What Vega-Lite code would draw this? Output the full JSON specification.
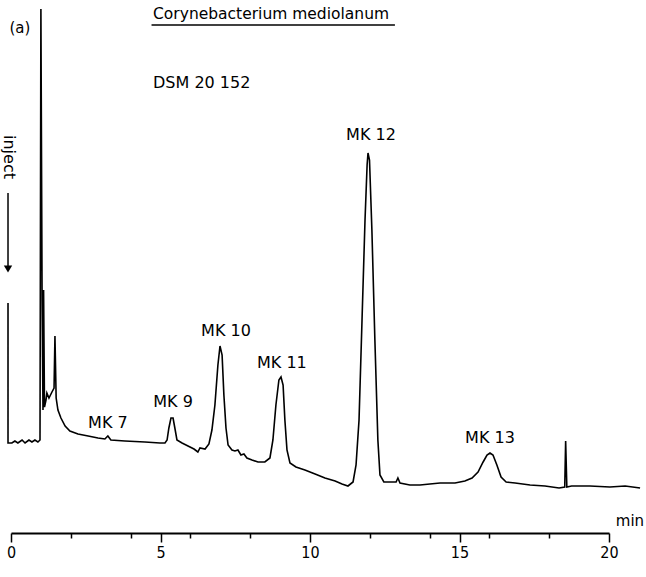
{
  "$schema": "https://vega.github.io/schema/vega-lite/v6.json",
  "width": 598,
  "height": 533,
  "autosize": "none",
  "padding": {"left": 11, "top": 0, "right": 37, "bottom": 44},
  "background": "white",
  "config": {"view": {"stroke": null}},
  "datasets": {
    "trace": [
      {"t": -0.10, "v": 230}, {"t": -0.10, "v": 90}, {"t": 0.03, "v": 90}, {"t": 0.13, "v": 92},
      {"t": 0.23, "v": 90}, {"t": 0.37, "v": 93}, {"t": 0.47, "v": 90}, {"t": 0.60, "v": 93},
      {"t": 0.70, "v": 91}, {"t": 0.80, "v": 93}, {"t": 0.90, "v": 91}, {"t": 0.97, "v": 93},
      {"t": 1.00, "v": 524}, {"t": 1.04, "v": 233}, {"t": 1.07, "v": 123}, {"t": 1.09, "v": 243},
      {"t": 1.12, "v": 126}, {"t": 1.17, "v": 133}, {"t": 1.20, "v": 140}, {"t": 1.27, "v": 135},
      {"t": 1.37, "v": 141}, {"t": 1.44, "v": 145}, {"t": 1.47, "v": 197}, {"t": 1.51, "v": 135},
      {"t": 1.57, "v": 123}, {"t": 1.67, "v": 115}, {"t": 1.81, "v": 107}, {"t": 1.97, "v": 102},
      {"t": 2.24, "v": 99}, {"t": 2.58, "v": 97}, {"t": 2.91, "v": 95}, {"t": 3.14, "v": 94},
      {"t": 3.24, "v": 97}, {"t": 3.34, "v": 93}, {"t": 3.81, "v": 92}, {"t": 4.48, "v": 91},
      {"t": 4.98, "v": 90}, {"t": 5.15, "v": 90}, {"t": 5.22, "v": 93}, {"t": 5.28, "v": 105},
      {"t": 5.35, "v": 115}, {"t": 5.42, "v": 115}, {"t": 5.48, "v": 105}, {"t": 5.55, "v": 93},
      {"t": 5.72, "v": 90}, {"t": 5.92, "v": 87}, {"t": 6.12, "v": 84}, {"t": 6.25, "v": 81},
      {"t": 6.32, "v": 85}, {"t": 6.49, "v": 84}, {"t": 6.62, "v": 89}, {"t": 6.72, "v": 103},
      {"t": 6.82, "v": 128}, {"t": 6.92, "v": 168}, {"t": 6.99, "v": 187}, {"t": 7.06, "v": 178},
      {"t": 7.12, "v": 138}, {"t": 7.19, "v": 105}, {"t": 7.26, "v": 88}, {"t": 7.39, "v": 83},
      {"t": 7.49, "v": 82}, {"t": 7.59, "v": 83}, {"t": 7.69, "v": 78}, {"t": 7.79, "v": 79},
      {"t": 7.89, "v": 75}, {"t": 8.06, "v": 73}, {"t": 8.26, "v": 71}, {"t": 8.49, "v": 71},
      {"t": 8.66, "v": 75}, {"t": 8.76, "v": 93}, {"t": 8.86, "v": 128}, {"t": 8.96, "v": 153},
      {"t": 9.03, "v": 156}, {"t": 9.10, "v": 148}, {"t": 9.16, "v": 113}, {"t": 9.23, "v": 83},
      {"t": 9.33, "v": 70}, {"t": 9.53, "v": 66}, {"t": 9.83, "v": 63}, {"t": 10.17, "v": 59},
      {"t": 10.50, "v": 55}, {"t": 10.84, "v": 52}, {"t": 11.07, "v": 49}, {"t": 11.27, "v": 47},
      {"t": 11.44, "v": 51}, {"t": 11.54, "v": 68}, {"t": 11.64, "v": 113}, {"t": 11.74, "v": 213},
      {"t": 11.84, "v": 313}, {"t": 11.91, "v": 368}, {"t": 11.94, "v": 380}, {"t": 11.99, "v": 373},
      {"t": 12.07, "v": 303}, {"t": 12.17, "v": 193}, {"t": 12.27, "v": 93}, {"t": 12.34, "v": 58},
      {"t": 12.47, "v": 51}, {"t": 12.68, "v": 51}, {"t": 12.88, "v": 51}, {"t": 12.94, "v": 55},
      {"t": 13.01, "v": 50}, {"t": 13.34, "v": 48}, {"t": 13.68, "v": 48}, {"t": 14.01, "v": 49},
      {"t": 14.35, "v": 50}, {"t": 14.85, "v": 50}, {"t": 15.18, "v": 52}, {"t": 15.42, "v": 55},
      {"t": 15.62, "v": 61}, {"t": 15.79, "v": 71}, {"t": 15.92, "v": 78}, {"t": 16.02, "v": 80},
      {"t": 16.12, "v": 78}, {"t": 16.25, "v": 68}, {"t": 16.39, "v": 56}, {"t": 16.56, "v": 51},
      {"t": 16.86, "v": 50}, {"t": 17.36, "v": 48}, {"t": 17.86, "v": 47}, {"t": 18.33, "v": 45},
      {"t": 18.52, "v": 46}, {"t": 18.55, "v": 92}, {"t": 18.59, "v": 46}, {"t": 18.75, "v": 47},
      {"t": 19.36, "v": 47}, {"t": 20.03, "v": 46}, {"t": 20.54, "v": 47}, {"t": 21.04, "v": 45}
    ],
    "peaks": [
      {"t": 3.24, "v": 110, "label": "MK 7"},
      {"t": 5.42, "v": 131, "label": "MK 9"},
      {"t": 7.19, "v": 202, "label": "MK 10"},
      {"t": 9.06, "v": 170, "label": "MK 11"},
      {"t": 12.04, "v": 398, "label": "MK 12"},
      {"t": 16.02, "v": 95, "label": "MK 13"}
    ]
  },
  "encoding": {
    "x": {
      "field": "t", "type": "quantitative",
      "scale": {"domain": [0, 20], "nice": false, "zero": false},
      "axis": {
        "title": null,
        "values": [0, 2, 4, 5, 6, 8, 10, 12, 14, 15, 16, 18, 20],
        "labelExpr": "datum.value % 5 === 0 ? datum.label : ''",
        "domainColor": "black", "domainWidth": 2,
        "tickColor": "black", "tickWidth": 1.5,
        "tickSize": {"condition": {"test": "datum.value % 5 === 0", "value": 9}, "value": 5},
        "labelFont": "DejaVu Sans Condensed", "labelFontSize": 16, "labelColor": "black",
        "labelPadding": 2, "labelFlush": false, "grid": false
      }
    },
    "y": {
      "field": "v", "type": "quantitative",
      "scale": {"domain": [0, 533], "nice": false, "zero": false},
      "axis": null
    }
  },
  "layer": [
    {
      "data": {"name": "trace"},
      "mark": {"type": "line", "color": "black", "strokeWidth": 1.6, "interpolate": "linear"},
      "encoding": {"order": {"value": null}}
    },
    {
      "data": {"name": "peaks"},
      "mark": {"type": "text", "font": "DejaVu Sans", "fontSize": 16, "color": "black", "align": "center", "baseline": "middle"},
      "encoding": {"text": {"field": "label"}}
    },
    {
      "data": {"values": [{"t": 4.75, "v": 519, "label": "Corynebacterium mediolanum"}]},
      "mark": {"type": "text", "font": "DejaVu Sans", "fontSize": 15.5, "color": "black", "align": "left", "baseline": "middle"},
      "encoding": {"text": {"field": "label"}}
    },
    {
      "data": {"values": [{"t": 4.7, "t2": 12.84, "v": 508}]},
      "mark": {"type": "rule", "color": "black", "strokeWidth": 1.5},
      "encoding": {"x2": {"field": "t2"}}
    },
    {
      "data": {"values": [{"t": 4.75, "v": 450, "label": "DSM 20 152"}]},
      "mark": {"type": "text", "font": "DejaVu Sans", "fontSize": 16, "color": "black", "align": "left", "baseline": "middle"},
      "encoding": {"text": {"field": "label"}}
    },
    {
      "data": {"values": [{"t": -0.05, "v": 505, "label": "(a)"}]},
      "mark": {"type": "text", "font": "DejaVu Sans", "fontSize": 15, "color": "black", "align": "left", "baseline": "middle"},
      "encoding": {"text": {"field": "label"}}
    },
    {
      "data": {"values": [{"t": 20.7, "v": 12, "label": "min"}]},
      "mark": {"type": "text", "font": "DejaVu Sans", "fontSize": 15, "color": "black", "align": "center", "baseline": "middle"},
      "encoding": {"text": {"field": "label"}}
    },
    {
      "data": {"values": [{"t": -0.07, "v": 376, "label": "inject"}]},
      "mark": {"type": "text", "font": "DejaVu Sans", "fontSize": 16, "color": "black", "align": "center", "baseline": "middle", "angle": 90},
      "encoding": {"text": {"field": "label"}}
    },
    {
      "data": {"values": [{"t": -0.1, "v": 340, "v2": 266}]},
      "mark": {"type": "rule", "color": "black", "strokeWidth": 1.5},
      "encoding": {"y2": {"field": "v2"}}
    },
    {
      "data": {"values": [{"t": -0.1, "v": 264}]},
      "mark": {"type": "point", "shape": "triangle-down", "filled": true, "color": "black", "size": 70, "opacity": 1}
    }
  ]
}
